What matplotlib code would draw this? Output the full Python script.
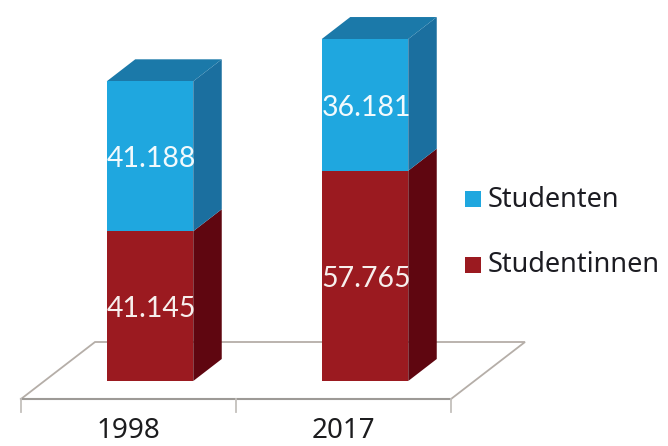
import matplotlib
matplotlib.use("Agg")
import matplotlib.pyplot as plt
from matplotlib.patches import Polygon, Rectangle

years = ["1998", "2017"]
studentinnen = [41145, 57765]
studenten = [41188, 36181]
series_names = ["Studenten", "Studentinnen"]

BLUE_FRONT, BLUE_TOP, BLUE_SIDE = "#1fa7df", "#1b79a9", "#1b6f9f"
RED_FRONT, RED_SIDE = "#9b1a20", "#5f0610"
FLOOR_BACK, FLOOR_FRONT = "#b5aea8", "#9d9a96"

W, H = 668, 446
SLOT_PX = 215.0          # pixels per category
ORIGIN_X = 128.5         # pixel position of the first category
BASE_Y = 381.0           # pixel position of value zero
PX_PER_UNIT = 0.00364    # pixels per student


def dx(px):
    return px / SLOT_PX


def dy(px):
    return px / PX_PER_UNIT


fig = plt.figure(figsize=(W / 100, H / 100), dpi=100, facecolor="white")
ax = fig.add_axes([0, 0, 1, 1])
ax.set_xlim(-ORIGIN_X / SLOT_PX, (W - ORIGIN_X) / SLOT_PX)
ax.set_ylim((BASE_Y - H) / PX_PER_UNIT, BASE_Y / PX_PER_UNIT)
ax.axis("off")

# Floor of the pseudo-3D chart
front_y = dy(-18)
back_y = dy(39)
left = dx(-107.5)
right = dx(322.5)
skew = dx(74)
ax.plot([left, left + skew, right + skew, right], [front_y, back_y, back_y, front_y],
        color=FLOOR_BACK, lw=1.3, zorder=1, solid_joinstyle="miter")
ax.plot([left, right], [front_y, front_y], color=FLOOR_FRONT, lw=1.5, zorder=1)
for tick_x in (left, (left + right) / 2, right):
    ax.plot([tick_x, tick_x], [front_y, front_y - dy(13)], color="#c4c0bc", lw=1.3, zorder=1)

# Stacked columns with a side face and a top face
bar_width = dx(86.5)
bar_shift = dx(21.5)
depth_x, depth_y = dx(28.5), dy(22)

for i, (year, red, blue) in enumerate(zip(years, studentinnen, studenten)):
    centre = i + bar_shift
    x0, x1 = centre - bar_width / 2, centre + bar_width / 2
    total = red + blue
    for low, high, colour in ((0, red, RED_SIDE), (red, total, BLUE_SIDE)):
        ax.add_patch(Polygon([(x1, low), (x1 + depth_x, low + depth_y),
                              (x1 + depth_x, high + depth_y), (x1, high)],
                             closed=True, fc=colour, ec="none", zorder=2))
    ax.add_patch(Polygon([(x0, total), (x0 + depth_x, total + depth_y),
                          (x1 + depth_x, total + depth_y), (x1, total)],
                         closed=True, fc=BLUE_TOP, ec="none", zorder=2))
    ax.bar(centre, red, width=bar_width, color=RED_FRONT, zorder=3)
    ax.bar(centre, blue, bottom=red, width=bar_width, color=BLUE_FRONT, zorder=3)
    ax.text(centre + dx(1), red / 2 - dy(3), f"{red:,}".replace(",", "."),
            color="#f7efed", fontsize=20.5, family="Lato",
            ha="center", va="center", zorder=4)
    ax.text(centre + dx(1), red + blue / 2 - dy(3), f"{blue:,}".replace(",", "."),
            color="#f2fafd", fontsize=20.5, family="Lato",
            ha="center", va="center", zorder=4)
    ax.text(i, dy(-50.5), year, color="#1c1c1e", fontsize=20, family="Noto Sans",
            ha="center", va="center", zorder=4)

# Legend placed beside the columns
legend_x = dx(465 - ORIGIN_X)
for name, colour, row in zip(series_names, (BLUE_FRONT, RED_FRONT), (199, 264.5)):
    row_y = dy(BASE_Y - row)
    ax.add_patch(Rectangle((legend_x, row_y - dy(8)), dx(16), dy(16), fc=colour, ec="none"))
    ax.text(dx(488 - ORIGIN_X), row_y - dy(1), name, color="#1c1c22", fontsize=19.5,
            family="Noto Sans", ha="left", va="center")

fig.savefig("out.png", dpi=100, facecolor="white")
